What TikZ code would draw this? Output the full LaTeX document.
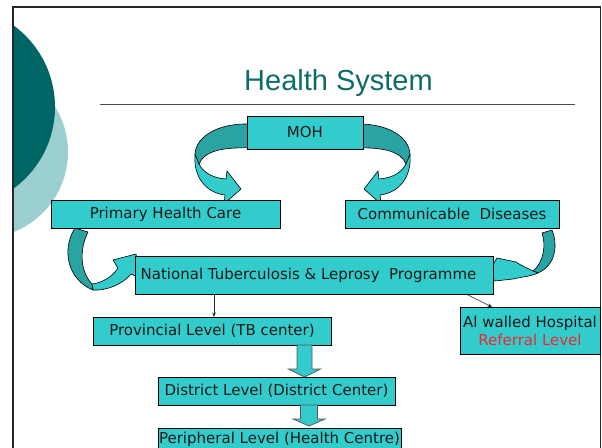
\documentclass[tikz,border=0pt]{standalone}
\usepackage{fontspec}
\setmainfont{DejaVu Sans}
\newfontfamily\titlefont{Liberation Sans}
\usetikzlibrary{calc,arrows.meta}
\definecolor{boxfill}{HTML}{33CCCC}
\definecolor{ribbondark}{HTML}{2AA3A3}
\definecolor{darkteal}{HTML}{006565}
\definecolor{lightteal}{HTML}{9CCFCF}
\definecolor{titlecol}{HTML}{0E6B6B}
\definecolor{reflevel}{HTML}{F0282D}
\begin{document}
\begin{tikzpicture}[x=1pt,y=-1pt,
  box/.style={draw=black, fill=boxfill, line width=0.9pt, inner sep=0pt, outer sep=0pt,
    font=\fontsize{15}{18}\selectfont, text=black!90},
  ribbonfront/.style={fill=boxfill, draw=black, line width=0.6pt, line join=round},
  ribbonback/.style={fill=ribbondark, draw=black, line width=0.6pt, line join=round},
  blockarrow/.style={fill=boxfill, draw=black!65, line width=0.8pt},
  thinarrow/.style={draw=black!85, line width=0.5pt, -{Stealth[length=4.5pt,width=3.5pt]}}
]
\useasboundingbox (0,0) rectangle (602,447);
% background
\begin{scope}
  \clip (13,7) rectangle (602,447);
  \fill[lightteal] (-18,152) circle (86);
  \fill[darkteal] (-46,107) circle (101);
\end{scope}
\draw[line width=1.5pt, black!85] (13,452) -- (13,7) -- (600.5,7) -- (600.5,452);
% title
\node[font=\titlefont\fontsize{29}{33}\selectfont, text=titlecol, anchor=base, inner sep=0pt] (title) at (338.5,90) {Health System};
\draw[black!70, line width=0.8pt] (100,104) -- (575,104);

% upper ribbon arrows (behind boxes)
\filldraw[ribbonfront] (195,154) .. controls (193,178) and (207,193) .. (225,195) -- (224,204) -- (241,189) -- (227,171) -- (226,179) .. controls (212,178) and (203,172) .. (199,164) -- cycle;
\filldraw[ribbonback] (250,124) .. controls (217,123) and (196,137) .. (195,154) -- (199,164) .. controls (204,151) and (223,147) .. (250,148) -- cycle;
\begin{scope}[xshift=605pt, xscale=-1]
\filldraw[ribbonfront] (195,154) .. controls (193,178) and (207,193) .. (225,195) -- (224,204) -- (241,189) -- (227,171) -- (226,179) .. controls (212,178) and (203,172) .. (199,164) -- cycle;
\filldraw[ribbonback] (250,124) .. controls (217,123) and (196,137) .. (195,154) -- (199,164) .. controls (204,151) and (223,147) .. (250,148) -- cycle;
\end{scope}

% lower ribbon arrows
\filldraw[ribbonback] (75,228) -- (88,232) .. controls (80,248) and (79,270) .. (92,284) -- (93,290) .. controls (68,280) and (61,250) .. (75,228) -- cycle;
\filldraw[ribbonfront] (92,284) .. controls (102,283) and (112,277) .. (118,268) -- (113,260) -- (136,254) -- (140,278) -- (131,274) .. controls (122,285) and (105,291) .. (93,290) -- cycle;
\filldraw[ribbonback] (542,233) -- (552,230) .. controls (558,245) and (556,265) .. (538,273) -- (533,271) .. controls (544,262) and (546,245) .. (542,233) -- cycle;
\filldraw[ribbonfront] (533,271) .. controls (527,268) and (520,265) .. (516,262) -- (497,258) -- (488,273) -- (495,281) -- (513,279) .. controls (522,277) and (532,276) .. (538,273) -- cycle;

% boxes
\node[box, minimum width=116, minimum height=33] (moh) at (305,132.5) {MOH};
\node[box, minimum width=229, minimum height=28] (phc) at (165.5,214) {Primary Health Care};
\node[box, minimum width=214, minimum height=28] (cd) at (452,214) {Communicable\ \ Diseases};
\node[box, minimum width=358, minimum height=38] (ntlp) at (314,275) {\hspace*{-11pt}National Tuberculosis \& Leprosy\ \ Programme};
\node[box, minimum width=140, minimum height=47, align=center] (hosp) at (530,330.5) {Al walled Hospital\\\textcolor{reflevel}{Referral Level}};
\node[box, minimum width=238, minimum height=28] (prov) at (212,331) {Provincial Level (TB center)};
\node[box, minimum width=237, minimum height=28] (dist) at (276.5,391) {District Level (District Center)};
\node[box, minimum width=243, minimum height=22] (peri) at (279.5,439) {Peripheral Level (Health Centre)};

% thin arrows
\draw[thinarrow] ([xshift=2pt]prov.north |- ntlp.south) -- ([xshift=2pt]prov.north);
\draw[thinarrow] ([xshift=-27pt]ntlp.south east) -- ([xshift=32pt]hosp.north west);

% block arrows
\path (prov.south east) ++(-26.5,0) coordinate (b1a);
\path (b1a |- dist.north) coordinate (b1t);
\filldraw[blockarrow] ($(b1a)+(-7.5,0)$) -- ($(b1a)+(7.5,0)$) -- ($(b1t)+(7.5,-8)$) -- ($(b1t)+(16,-8)$) -- (b1t) -- ($(b1t)+(-16,-8)$) -- ($(b1t)+(-7.5,-8)$) -- cycle;
\path (dist.south east) ++(-86,0) coordinate (b2a);
\path (b2a |- peri.north) coordinate (b2t);
\filldraw[blockarrow] ($(b2a)+(-8.5,0)$) -- ($(b2a)+(8.5,0)$) -- ($(b2t)+(8.5,-9)$) -- ($(b2t)+(16,-9)$) -- ($(b2t)+(0,-2)$) -- ($(b2t)+(-16,-9)$) -- ($(b2t)+(-8.5,-9)$) -- cycle;
\end{tikzpicture}
\end{document}
